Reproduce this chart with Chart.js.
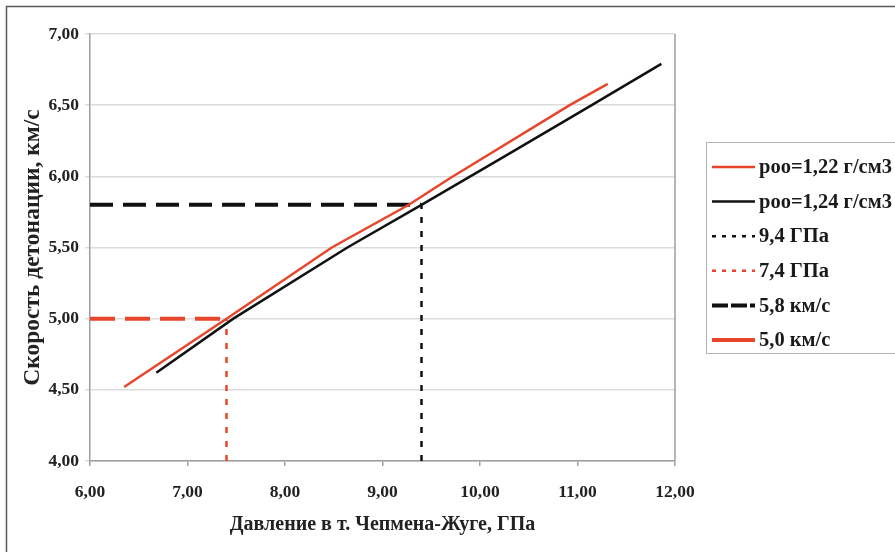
<!DOCTYPE html>
<html>
<head>
<meta charset="utf-8">
<script src="https://cdn.jsdelivr.net/npm/chart.js@4.4.1/dist/chart.umd.min.js"></script>
<style>
  html, body { margin: 0; padding: 0; background: #fff; }
  #wrap { width: 895px; height: 552px; position: relative; }
</style>
</head>
<body>
<div id="wrap"><canvas id="myChart" width="895" height="552"></canvas></div>
<script>
// data
const red122X = [6.35, 7.40, 8.48, 9.27, 9.70, 10.92, 11.31];
const red122Y = [4.52, 5.00, 5.50, 5.80, 5.99, 6.50, 6.65];
const black124X = [6.68, 7.47, 8.64, 9.40, 10.30, 11.12, 11.86];
const black124Y = [4.62, 5.00, 5.50, 5.80, 6.16, 6.49, 6.79];
const guideP94 = [[9.4, 4.0], [9.4, 5.8]];
const guideP74 = [[7.4, 4.0], [7.4, 5.0]];
const guideD58 = [[6.0, 5.8], [9.4, 5.8]];
const guideD50 = [[6.0, 5.0], [7.4, 5.0]];
const seriesLabels = ['роо=1,22 г/см3', 'роо=1,24 г/см3', '9,4 ГПа', '7,4 ГПа', '5,8 км/с', '5,0 км/с'];
const xTicks = [6, 7, 8, 9, 10, 11, 12];
const yTicks = [4.0, 4.5, 5.0, 5.5, 6.0, 6.5, 7.0];
const xTitle = 'Давление в т. Чепмена-Жуге, ГПа';
const yTitle = 'Скорость детонации, км/с';

const RED = '#e8462b';
const BLACK = '#111111';
const AXIS = '#a39c9c';
const FONT = "'Liberation Serif', 'Times New Roman', serif";

const pts = (xs, ys) => xs.map((x, i) => ({ x: x, y: ys[i] }));
const pairs = (arr) => arr.map(p => ({ x: p[0], y: p[1] }));
const fmt = v => Number(v).toFixed(2).replace('.', ',');

const decor = {
    id: 'decor',
    beforeDraw(chart) {
        const c = chart.ctx;
        c.save();
        c.fillStyle = '#fff';
        c.fillRect(0, 0, chart.width, chart.height);
        c.restore();
    },
    afterDraw(chart) {
        const c = chart.ctx;
        const a = chart.chartArea;
        c.save();
        // right border of the plot
        c.strokeStyle = AXIS;
        c.lineWidth = 1.5;
        c.beginPath();
        c.moveTo(a.right, a.top);
        c.lineTo(a.right, a.bottom);
        c.stroke();
        // outer frame (top and left visible)
        c.strokeStyle = '#5a5a5a';
        c.lineWidth = 1.5;
        c.strokeRect(6.5, 6.5, chart.width + 20, chart.height + 20);
        // legend
        const bx = 706, by = 142, bh = 211;
        c.fillStyle = '#fff';
        c.fillRect(bx, by, chart.width - bx + 10, bh);
        c.strokeStyle = '#b5b5b5';
        c.lineWidth = 1;
        c.strokeRect(bx + 0.5, by + 0.5, chart.width - bx + 10, bh);
        c.font = 'bold 20.5px ' + FONT;
        c.textBaseline = 'middle';
        c.textAlign = 'left';
        chart.data.datasets.forEach((ds, i) => {
            const y = 167 + i * 34.6;
            c.strokeStyle = ds.borderColor;
            c.lineWidth = ds.borderWidth;
            c.setLineDash(ds.legendDash || []);
            c.beginPath();
            c.moveTo(712, y);
            c.lineTo(755, y);
            c.stroke();
            c.setLineDash([]);
            c.fillStyle = '#1a1a1a';
            c.fillText(ds.label, 759, y + 1);
        });
        c.restore();
    }
};

const ctx = document.getElementById('myChart').getContext('2d');
const myChart = new Chart(ctx, {
    type: 'line',
    data: {
        datasets: [{
            label: seriesLabels[0],
            data: pts(red122X, red122Y),
            borderColor: RED,
            borderWidth: 2.5
        }, {
            label: seriesLabels[1],
            data: pts(black124X, black124Y),
            borderColor: BLACK,
            borderWidth: 2.5
        }, {
            label: seriesLabels[2],
            data: pairs(guideP94),
            borderColor: BLACK,
            borderWidth: 2.5,
            borderDash: [6, 8],
            legendDash: [4, 6]
        }, {
            label: seriesLabels[3],
            data: pairs(guideP74),
            borderColor: RED,
            borderWidth: 2.5,
            borderDash: [6, 8],
            legendDash: [4, 6]
        }, {
            label: seriesLabels[4],
            data: pairs(guideD58),
            borderColor: BLACK,
            borderWidth: 4,
            borderDash: [23, 10],
            legendDash: [16, 3]
        }, {
            label: seriesLabels[5],
            data: pairs(guideD50),
            borderColor: RED,
            borderWidth: 4,
            borderDash: [25, 10],
            legendDash: []
        }]
    },
    options: {
        responsive: false,
        animation: false,
        elements: { point: { radius: 0 }, line: { tension: 0, borderCapStyle: 'butt' } },
        layout: { padding: { left: 0, top: 34, right: 220, bottom: 0 } },
        plugins: { legend: { display: false }, tooltip: { enabled: false } },
        scales: {
            x: {
                type: 'linear',
                min: 6, max: 12,
                afterBuildTicks: s => { s.ticks = xTicks.map(v => ({ value: v })); },
                afterFit: s => { s.height = 91; },
                border: { color: AXIS, width: 1.5 },
                grid: { drawOnChartArea: false, drawTicks: true, tickLength: 5, color: AXIS, lineWidth: 1.5 },
                ticks: {
                    padding: 16,
                    color: '#222',
                    font: { family: FONT, size: 17.5, weight: 'bold' },
                    callback: v => fmt(v)
                },
                title: {
                    display: true,
                    text: xTitle,
                    color: '#222',
                    font: { family: FONT, size: 20, weight: 'bold' },
                    padding: { top: 0, bottom: 15 }
                }
            },
            y: {
                type: 'linear',
                min: 4, max: 7,
                afterBuildTicks: s => { s.ticks = yTicks.map(v => ({ value: v })); },
                afterFit: s => { s.width = 90; },
                border: { color: AXIS, width: 1.5 },
                grid: { color: '#dcdcdc', lineWidth: 1.5, tickLength: 5, drawTicks: true },
                ticks: {
                    padding: 6,
                    color: '#222',
                    font: { family: FONT, size: 17.5, weight: 'bold' },
                    callback: v => fmt(v)
                },
                title: {
                    display: true,
                    text: yTitle,
                    color: '#222',
                    font: { family: FONT, size: 23.5, weight: 'bold' },
                    padding: { top: 19, bottom: 0 }
                }
            }
        }
    },
    plugins: [decor]
});
</script>
</body>
</html>
